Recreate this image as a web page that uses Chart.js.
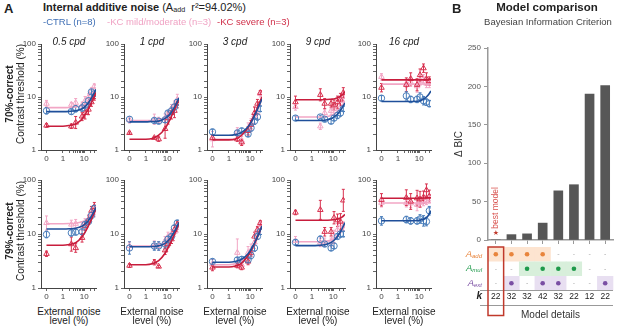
<!DOCTYPE html>
<html>
<head>
<meta charset="utf-8">
<script src="https://cdn.jsdelivr.net/npm/chart.js@4.4.1/dist/chart.umd.min.js"></script>
<style>
  body { margin: 0; width: 617px; height: 327px; position: relative; overflow: hidden; background: #fff;
         font-family: "Liberation Sans", Arial, Helvetica, sans-serif; color: #222; }
  canvas { position: absolute; }
  .t { position: absolute; white-space: nowrap; line-height: 1; }
  .sub { font-size: 0.65em; vertical-align: -0.25em; }
</style>
</head>
<body>
<script>
// ---- data ----
const FREQS = ['0.5 cpd', '1 cpd', '3 cpd', '9 cpd', '16 cpd'];
const NOISE = [0, 2.5, 4, 8, 11, 16, 22, 30];            // external noise level (%)
const FIT_NOISE = [0, 1, 2, 4, 8, 12, 18, 26, 36];        // where fitted curves are read
const X_TICKS = [0, 1, 2, 3, 4, 5, 6, 7, 8, 9, 10, 20, 30];
const X_LABELS = [0, 1, 10];
const Y_LABELS = [1, 10, 100];

// 70%-correct thresholds (%), one row per spatial frequency
const CTRL_70 = [
  [5.5, 5.3, 6.0, 6.2, 7.0, 8.5, 12.5, 11.5],
  [3.8, 3.6, 3.5, 3.7, 5.0, 5.5, 6.5, 8.0],
  [2.2, 2.1, 2.3, 2.0, 2.6, 3.5, 4.2, 6.0],
  [4.0, 4.2, 3.8, 3.5, 4.0, 4.5, 5.0, 6.0],
  [9.5, 10.5, 9.0, 9.0, 10.0, 8.5, 8.0, 7.5]
];
const MILD_70 = [
  [7.5, 7.2, 7.8, 7.0, 8.5, 10.0, 13.0, 16.0],
  [3.7, 3.8, 3.6, 4.0, 4.5, 6.0, 7.0, 9.0],
  [1.6, 2.2, 1.5, 2.5, 3.0, 4.5, 5.0, 11.5],
  [6.5, 2.8, 5.0, 5.5, 6.0, 7.0, 8.5, 10.0],
  [24, 18, 19, 16, 20, 22, 18, 18]
];
const SEV_70 = [
  [2.9, 2.8, 3.3, 4.3, 5.0, 5.8, 8.0, 10.0],
  [2.1, 1.7, 1.6, 2.5, 4.0, 5.0, 5.5, 7.5],
  [1.7, 1.6, 1.4, 2.3, 3.0, 5.0, 7.5, 12.0],
  [8.0, 11.0, 7.5, 7.5, 7.0, 8.0, 9.0, 12.0],
  [15, 17, 22, 17, 26, 35, 22, 20]
];
// error bars: value/f .. value*f
const CTRL_70_ERR = [
  [1.15, 1.12, 1.15, 1.15, 1.12, 1.12, 1.1, 1.1],
  [1.12, 1.12, 1.12, 1.12, 1.1, 1.1, 1.1, 1.12],
  [1.12, 1.12, 1.12, 1.12, 1.15, 1.15, 1.15, 1.12],
  [1.1, 1.08, 1.1, 1.12, 1.12, 1.15, 1.15, 1.12],
  [1.12, 1.2, 1.15, 1.15, 1.2, 1.2, 1.15, 1.15]
];
const MILD_70_ERR = [
  [1.15, 1.1, 1.2, 1.15, 1.2, 1.15, 1.15, 1.1],
  [1.15, 1.25, 1.15, 1.2, 1.2, 1.2, 1.2, 1.25],
  [1.4, 1.2, 1.2, 1.3, 1.3, 1.4, 1.3, 1.15],
  [1.15, 1.15, 1.2, 1.2, 1.3, 1.2, 1.2, 1.2],
  [1.15, 1.2, 1.2, 1.3, 1.2, 1.2, 1.2, 1.2]
];
const SEV_70_ERR = [
  [1.08, 1.1, 1.3, 1.2, 1.3, 1.25, 1.2, 1.15],
  [1.05, 1.05, 1.1, 1.5, 1.3, 1.3, 1.35, 1.2],
  [1.1, 1.1, 1.15, 1.2, 1.2, 1.3, 1.2, 1.1],
  [1.3, 1.3, 1.25, 1.2, 1.25, 1.3, 1.3, 1.25],
  [1.2, 1.35, 1.3, 1.3, 1.3, 1.2, 1.3, 1.2]
];
const CTRL_70_FIT = [
  [5.3, 5.3, 5.35, 5.5, 6.0, 6.8, 8.4, 10.8, 14],
  [3.4, 3.4, 3.45, 3.5, 3.95, 4.5, 5.6, 7.3, 9.6],
  [1.9, 1.9, 1.95, 2.15, 2.75, 3.5, 4.9, 6.8, 9.2],
  [3.6, 3.6, 3.6, 3.65, 3.9, 4.3, 5.0, 6.2, 7.7],
  [8.2, 8.2, 8.2, 8.2, 8.3, 8.6, 9.4, 10.8, 13]
];
const MILD_70_FIT = [
  [6.3, 6.3, 6.35, 6.5, 6.9, 7.6, 9.0, 11.2, 14.2],
  [3.6, 3.6, 3.6, 3.7, 4.1, 4.7, 5.8, 7.4, 9.7],
  [1.6, 1.6, 1.65, 1.9, 2.6, 3.4, 4.8, 6.7, 9.1],
  [4.2, 4.2, 4.2, 4.25, 4.5, 4.9, 5.6, 6.8, 8.4],
  [17.5, 17.5, 17.5, 17.5, 17.5, 17.5, 17.6, 17.7, 18]
];
const SEV_70_FIT = [
  [2.8, 2.8, 2.9, 3.1, 3.85, 4.9, 6.6, 9.0, 12.3],
  [1.6, 1.6, 1.65, 1.9, 2.56, 3.4, 4.8, 6.7, 9.1],
  [1.55, 1.55, 1.6, 1.9, 2.7, 3.7, 5.2, 7.4, 10.1],
  [8.9, 8.9, 8.9, 8.9, 9.1, 9.3, 9.9, 10.9, 12.4],
  [21, 21, 21, 21, 21, 21, 21.1, 21.3, 21.8]
];

// 79%-correct thresholds (%)
const CTRL_79 = [
  [9.8, 10.5, 10.8, 11.0, 15, 17, 22, 30],
  [5.5, 6.0, 6.0, 6.5, 8.0, 9.0, 13, 16],
  [3.1, 3.3, 3.4, 3.3, 4.0, 5.5, 9.0, 11],
  [7.0, 8.0, 6.5, 5.5, 6.0, 9.0, 10, 10],
  [17.5, 18.5, 17.5, 17.5, 19, 17.5, 17, 27]
];
const MILD_79 = [
  [16, 15, 15.5, 14, 16, 19, 24, 25],
  [6.0, 6.2, 6.0, 7.5, 9.0, 10, 11, 13],
  [2.8, 4.5, 2.7, 4.5, 5.0, 7.0, 11, 15],
  [7.5, 7.0, 7.0, 7.0, 9.0, 12, 15, 14],
  [38, 38, 37, 35, 38, 40, 42, 45]
];
const SEV_79 = [
  [4.3, 6.5, 5.5, 8.5, 14, 18, 27, 32],
  [2.6, 3.0, 2.5, 5.0, 6.5, 8.0, 12, 15],
  [2.4, 2.6, 2.4, 3.1, 4.5, 9.0, 12, 16],
  [25, 28, 11, 11, 20, 18, 17, 42],
  [43, 47, 40, 46, 44, 48, 65, 50]
];
const CTRL_79_ERR = [
  [1.15, 1.15, 1.12, 1.12, 1.12, 1.12, 1.15, 1.12],
  [1.3, 1.2, 1.2, 1.2, 1.15, 1.15, 1.12, 1.12],
  [1.12, 1.12, 1.12, 1.12, 1.15, 1.15, 1.12, 1.12],
  [1.12, 1.15, 1.1, 1.12, 1.12, 1.12, 1.15, 1.12],
  [1.2, 1.15, 1.15, 1.15, 1.2, 1.25, 1.2, 1.2]
];
const MILD_79_ERR = [
  [1.35, 1.2, 1.2, 1.2, 1.2, 1.2, 1.2, 1.2],
  [1.2, 1.2, 1.2, 1.2, 1.2, 1.2, 1.2, 1.2],
  [1.2, 1.8, 1.15, 1.3, 1.3, 1.3, 1.2, 1.1],
  [1.2, 1.2, 1.2, 1.2, 1.3, 1.3, 1.3, 1.2],
  [1.2, 1.2, 1.2, 1.3, 1.2, 1.2, 1.2, 1.2]
];
const SEV_79_ERR = [
  [1.12, 1.35, 1.2, 1.2, 1.2, 1.2, 1.2, 1.2],
  [1.08, 1.12, 1.05, 1.2, 1.15, 1.2, 1.2, 1.15],
  [1.15, 1.1, 1.1, 1.15, 1.15, 1.2, 1.15, 1.1],
  [1.1, 1.5, 1.2, 1.2, 1.3, 1.3, 1.4, 1.6],
  [1.3, 1.4, 1.4, 1.4, 1.4, 1.3, 1.3, 1.3]
];
const CTRL_79_FIT = [
  [12.4, 12.4, 12.5, 12.8, 14, 15.7, 19, 24.2, 31.3],
  [5.8, 5.8, 5.85, 6.05, 6.7, 7.8, 9.7, 12.6, 16.5],
  [3.0, 3.0, 3.1, 3.4, 4.3, 5.5, 7.5, 10.3, 14],
  [6.1, 6.1, 6.15, 6.3, 6.95, 7.9, 9.7, 12.5, 16.3],
  [17.6, 17.6, 17.6, 17.6, 17.8, 18.2, 19.2, 21.5, 27]
];
const MILD_79_FIT = [
  [15.5, 15.5, 15.6, 15.8, 16.8, 18.2, 21.2, 25.9, 32.7],
  [6.0, 6.0, 6.05, 6.2, 6.9, 7.9, 9.8, 12.7, 16.6],
  [2.7, 2.7, 2.8, 3.2, 4.1, 5.3, 7.3, 10.3, 14],
  [7.2, 7.2, 7.2, 7.3, 7.7, 8.3, 9.5, 11.5, 14.5],
  [37.5, 37.5, 37.5, 37.5, 37.5, 37.6, 37.7, 37.9, 38.5]
];
const SEV_79_FIT = [
  [6.2, 6.2, 6.4, 6.9, 8.9, 11.4, 15.7, 21.7, 29.4],
  [2.7, 2.7, 2.8, 3.2, 4.4, 5.9, 8.2, 11.5, 15.7],
  [2.45, 2.45, 2.55, 2.9, 4.0, 5.2, 7.3, 10.3, 14.2],
  [18, 18, 18, 18, 18.2, 18.5, 19.2, 20.5, 23],
  [46, 46, 46, 46, 46, 46.1, 46.3, 46.6, 47]
];

// panel B
const DELTA_BIC = [0, 7, 8, 22, 64, 72, 190, 201];
const MODEL_K = [22, 32, 32, 42, 32, 22, 12, 22];
const HAS_ADD = [1, 1, 1, 1, 0, 0, 0, 0];
const HAS_MUL = [0, 0, 1, 1, 1, 1, 0, 0];
const HAS_EXT = [0, 1, 0, 1, 1, 0, 0, 1];
const BEST_MODEL = 0;

// ---- styling / layout ----
const FONT = '"Liberation Sans", Arial, Helvetica, sans-serif';
const C_CTRL = '#4a7ebb', C_CTRL_FIT = '#1f4f9a';
const C_MILD = '#f2a6c5', C_MILD_FIT = '#f2a6c5';
const C_SEV = '#d8314f', C_SEV_FIT = '#c81d3c';
const PANEL_LEFT = [41, 124, 207, 290, 376];
const PANEL_W = 56;
const ROWS = [
  { top: 44, h: 106, label: '70%-correct', ctrl: CTRL_70, mild: MILD_70, sev: SEV_70,
    ctrlErr: CTRL_70_ERR, mildErr: MILD_70_ERR, sevErr: SEV_70_ERR,
    ctrlFit: CTRL_70_FIT, mildFit: MILD_70_FIT, sevFit: SEV_70_FIT },
  { top: 180, h: 108, label: '79%-correct', ctrl: CTRL_79, mild: MILD_79, sev: SEV_79,
    ctrlErr: CTRL_79_ERR, mildErr: MILD_79_ERR, sevErr: SEV_79_ERR,
    ctrlFit: CTRL_79_FIT, mildFit: MILD_79_FIT, sevFit: SEV_79_FIT }
];
const ZERO_POS = 0.17;   // where "0" sits on the log noise axis
const xv = n => (n === 0 ? ZERO_POS : n);

Chart.defaults.font.family = FONT;
Chart.defaults.color = '#444';

function addText(html, x, y, css, align, rot) {
  const d = document.createElement('div');
  d.className = 't';
  d.innerHTML = html;
  d.style.cssText += css || '';
  d.style.left = x + 'px';
  d.style.top = y + 'px';
  const tx = align === 'left' ? '0' : '-50%';
  d.style.transform = 'translate(' + tx + ',-50%)' + (rot ? ' rotate(-90deg)' : '');
  document.body.appendChild(d);
}

function makeCanvas(left, top, w, h) {
  const c = document.createElement('canvas');
  c.width = w; c.height = h;
  c.style.left = left + 'px'; c.style.top = top + 'px';
  c.style.width = w + 'px'; c.style.height = h + 'px';
  document.body.appendChild(c);
  return c;
}

// vertical error bars drawn through the y scale
const errorBars = {
  id: 'errorBars',
  beforeDatasetsDraw(chart) {
    const ctx = chart.ctx, ys = chart.scales.y;
    chart.data.datasets.forEach((ds, di) => {
      if (!ds.errs) return;
      const meta = chart.getDatasetMeta(di);
      ctx.save();
      ctx.strokeStyle = ds.borderColor;
      ctx.lineWidth = 1;
      meta.data.forEach((pt, i) => {
        const v = ds.data[i].y, f = ds.errs[i];
        const y1 = ys.getPixelForValue(v * f), y2 = ys.getPixelForValue(v / f);
        ctx.beginPath();
        ctx.moveTo(pt.x, y1); ctx.lineTo(pt.x, y2);
        ctx.moveTo(pt.x - 1.5, y1); ctx.lineTo(pt.x + 1.5, y1);
        ctx.moveTo(pt.x - 1.5, y2); ctx.lineTo(pt.x + 1.5, y2);
        ctx.stroke();
      });
      ctx.restore();
    });
  }
};

function pointSet(vals, errs, color, style, order) {
  return {
    data: NOISE.map((n, i) => ({ x: xv(n), y: vals[i] })),
    errs: errs,
    showLine: false,
    pointStyle: style,
    pointRadius: 3.2,
    pointBorderWidth: 1,
    borderColor: color,
    pointBorderColor: color,
    pointBackgroundColor: 'rgba(0,0,0,0)',
    order: order
  };
}

function fitSet(vals, color, order) {
  return {
    data: FIT_NOISE.map((n, i) => ({ x: xv(n), y: vals[i] })),
    showLine: true,
    pointRadius: 0,
    borderColor: color,
    borderWidth: 1.6,
    cubicInterpolationMode: 'monotone',
    fill: false,
    order: order
  };
}

function makePanel(row, col) {
  const r = ROWS[row];
  const padTop = 8, axisW = 30, axisH = 16, padRight = 4;
  const canvas = makeCanvas(PANEL_LEFT[col] - axisW, r.top - padTop,
                            axisW + PANEL_W + padRight, padTop + r.h + axisH);
  const axisColor = '#444';
  new Chart(canvas, {
    type: 'scatter',
    data: {
      datasets: [
        pointSet(r.mild[col], r.mildErr[col], C_MILD, 'triangle', 6),
        fitSet(r.mildFit[col], C_MILD_FIT, 5),
        pointSet(r.sev[col], r.sevErr[col], C_SEV, 'triangle', 4),
        pointSet(r.ctrl[col], r.ctrlErr[col], C_CTRL, 'circle', 3),
        fitSet(r.sevFit[col], C_SEV_FIT, 2),
        fitSet(r.ctrlFit[col], C_CTRL_FIT, 1)
      ]
    },
    options: {
      responsive: false,
      animation: false,
      devicePixelRatio: 1,
      events: [],
      layout: { padding: { top: padTop, right: padRight, left: 0, bottom: 0 } },
      plugins: { legend: { display: false }, tooltip: { enabled: false } },
      scales: {
        x: {
          type: 'logarithmic', min: 0.094, max: 36,
          afterBuildTicks: s => { s.ticks = X_TICKS.map(v => ({ value: xv(v) })); },
          afterFit: s => { s.height = axisH; },
          ticks: {
            autoSkip: false, maxRotation: 0, padding: 1, color: '#444', font: { size: 8 },
            callback: v => (v === ZERO_POS ? '0' : (X_LABELS.includes(v) ? String(v) : ''))
          },
          grid: { drawOnChartArea: false, tickLength: 3, color: '#666' },
          border: { color: axisColor, width: 1 }
        },
        y: {
          type: 'logarithmic', min: 1, max: 100,
          afterFit: s => { s.width = axisW; },
          ticks: {
            autoSkip: false, padding: 2, color: '#444', font: { size: 8 },
            callback: v => (Y_LABELS.includes(v) ? String(v) : '')
          },
          grid: { drawOnChartArea: false, tickLength: 3, color: '#666' },
          border: { color: axisColor, width: 1 }
        }
      }
    },
    plugins: [errorBars]
  });
  const cx = PANEL_LEFT[col] + PANEL_W / 2;
  if (row === 0) {
    addText(FREQS[col], cx, 42, 'font-size:10px;font-style:italic;');
  } else {
    addText('External noise', cx, 311.5, 'font-size:10px;');
    addText('level (%)', cx, 321, 'font-size:10px;');
  }
}

ROWS.forEach((r, ri) => FREQS.forEach((f, ci) => makePanel(ri, ci)));

// ---- panel A text ----
addText('A', 4, 8, 'font-size:13px;font-weight:bold;', 'left');
addText('<b>Internal additive noise</b> (A<span class="sub">add</span>&nbsp; r²=94.02%)', 43, 8,
        'font-size:11px;', 'left');
addText('-CTRL (n=8)', 43, 22, 'font-size:9.5px;color:#3f6fb5;', 'left');
addText('-KC mild/moderate (n=3)', 107, 22, 'font-size:9.5px;color:#f0a3c4;', 'left');
addText('-KC severe (n=3)', 217, 22, 'font-size:9.5px;color:#d0304a;', 'left');
addText('70%-correct', 10, 94, 'font-size:10px;font-weight:bold;', null, true);
addText('Contrast threshold (%)', 21, 94, 'font-size:10px;', null, true);
addText('79%-correct', 10, 231, 'font-size:10px;font-weight:bold;', null, true);
addText('Contrast threshold (%)', 21, 231, 'font-size:10px;', null, true);

// ---- panel B ----
addText('B', 452, 8, 'font-size:13px;font-weight:bold;', 'left');
addText('Model comparison', 547, 8, 'font-size:11.5px;font-weight:bold;');
addText('Bayesian Information Criterion', 548, 22, 'font-size:9.5px;color:#444;');

const modelTable = {
  id: 'modelTable',
  afterDraw(chart) {
    const ctx = chart.ctx, xs = chart.scales.x, area = chart.chartArea;
    const step = xs.getPixelForValue(1) - xs.getPixelForValue(0);
    const top = area.bottom + 7, rowH = 14.5;
    const rows = [
      { on: HAS_ADD, sub: 'add', band: '#fde4d0', dot: '#e8843c' },
      { on: HAS_MUL, sub: 'mul', band: '#d8efdb', dot: '#1f9a4b' },
      { on: HAS_EXT, sub: 'ext', band: '#e8dff1', dot: '#7a4ea3' }
    ];
    const labelRight = area.left - 6;
    ctx.save();
    rows.forEach((r, ri) => {
      const y0 = top + ri * rowH, yc = y0 + rowH / 2;
      r.on.forEach((on, i) => {
        if (!on) return;
        const xc = xs.getPixelForValue(i);
        ctx.fillStyle = r.band;
        ctx.fillRect(xc - step / 2 - 0.3, y0, step + 0.6, rowH);
      });
      r.on.forEach((on, i) => {
        const xc = xs.getPixelForValue(i);
        if (on) {
          ctx.fillStyle = r.dot;
          ctx.beginPath(); ctx.arc(xc, yc, 2.3, 0, Math.PI * 2); ctx.fill();
        } else {
          ctx.fillStyle = '#aaa';
          ctx.font = '7px ' + FONT;
          ctx.textAlign = 'center'; ctx.textBaseline = 'middle';
          ctx.fillText('-', xc, yc);
        }
      });
      // row label A_sub
      ctx.textAlign = 'left'; ctx.textBaseline = 'middle';
      ctx.font = 'italic 6px ' + FONT;
      const sw = ctx.measureText(r.sub).width;
      ctx.font = 'italic 9.5px ' + FONT;
      const mw = ctx.measureText('A').width;
      ctx.fillStyle = r.dot;
      ctx.fillText('A', labelRight - sw - mw, yc);
      ctx.font = 'italic 6px ' + FONT;
      ctx.fillText(r.sub, labelRight - sw, yc + 2);
    });
    const lineY1 = top + 3 * rowH, kY = lineY1 + 6, lineY2 = lineY1 + 15;
    ctx.strokeStyle = '#999'; ctx.lineWidth = 1;
    ctx.beginPath();
    ctx.moveTo(area.left - 8, lineY1); ctx.lineTo(area.right, lineY1);
    ctx.moveTo(area.left - 8, lineY2); ctx.lineTo(area.right, lineY2);
    ctx.stroke();
    ctx.fillStyle = '#222';
    ctx.textAlign = 'center'; ctx.textBaseline = 'middle';
    ctx.font = '8.5px ' + FONT;
    MODEL_K.forEach((k, i) => ctx.fillText(String(k), xs.getPixelForValue(i), kY));
    ctx.font = 'italic bold 10px ' + FONT;
    ctx.textAlign = 'right';
    ctx.fillText('k', labelRight, kY);
    // best model box, star and note
    const bx = xs.getPixelForValue(BEST_MODEL);
    ctx.strokeStyle = '#c0392b'; ctx.lineWidth = 1.5;
    ctx.strokeRect(bx - step / 2, top, step, lineY2 + 10 - top);
    ctx.fillStyle = '#c0392b';
    ctx.textAlign = 'center';
    ctx.font = '7px "DejaVu Sans", ' + FONT;
    ctx.fillText('★', bx, area.bottom - 7);
    ctx.save();
    ctx.translate(bx, area.bottom - 32);
    ctx.rotate(-Math.PI / 2);
    ctx.fillStyle = '#d9534f';
    ctx.font = '8.5px ' + FONT;
    ctx.fillText('best model', 0, 0);
    ctx.restore();
    // axis titles
    ctx.fillStyle = '#333';
    ctx.font = '10px ' + FONT;
    ctx.fillText('Model details', (area.left + area.right) / 2, lineY2 + 9.5);
    ctx.save();
    ctx.translate(26, (area.top + area.bottom) / 2 + 0);
    ctx.rotate(-Math.PI / 2);
    ctx.fillText('\u0394 BIC', 0, 0);
    ctx.restore();
    ctx.restore();
  }
};

const bicCanvas = makeCanvas(433, 30, 184, 297);
new Chart(bicCanvas, {
  type: 'bar',
  data: {
    labels: MODEL_K.map((k, i) => 'M' + (i + 1)),
    datasets: [{ data: DELTA_BIC, backgroundColor: '#575757', barThickness: 9 }]
  },
  options: {
    responsive: false,
    animation: false,
    devicePixelRatio: 1,
    events: [],
    layout: { padding: { left: 0, right: 4, top: 18, bottom: 83 } },
    plugins: { legend: { display: false }, tooltip: { enabled: false } },
    scales: {
      x: {
        ticks: { display: false },
        afterFit: s => { s.height = 4; },
        grid: { offset: false, drawOnChartArea: false, tickLength: 4, color: '#999' },
        border: { color: '#999', width: 1.5 }
      },
      y: {
        min: 0, max: 250,
        afterFit: s => { s.width = 55; },
        ticks: { stepSize: 50, padding: 3, color: '#555', font: { size: 8 } },
        grid: { drawOnChartArea: false, tickLength: 4, color: '#999' },
        border: { color: '#999', width: 1.5 }
      }
    }
  },
  plugins: [modelTable]
});
</script>
</body>
</html>
